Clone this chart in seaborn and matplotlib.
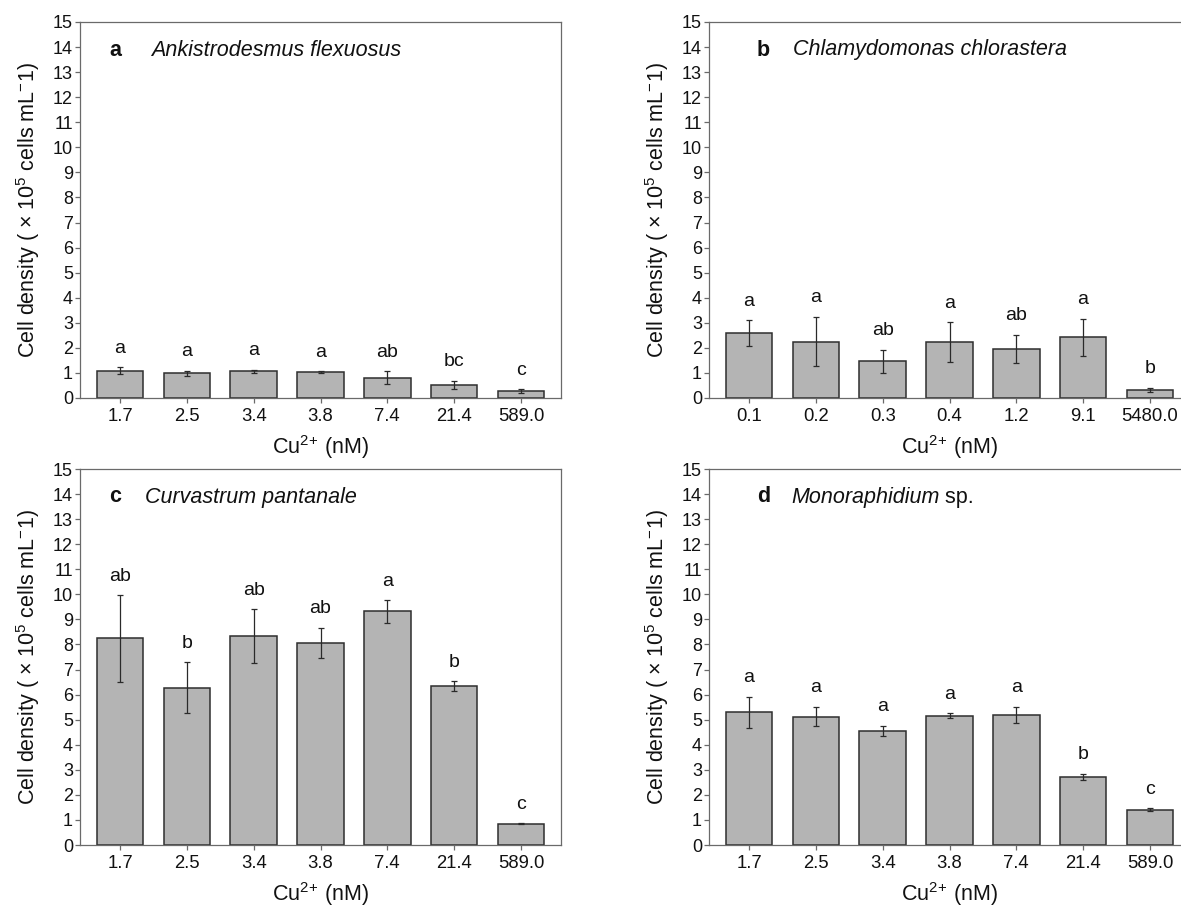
import matplotlib
matplotlib.use("Agg")
import matplotlib.pyplot as plt
import matplotlib.transforms as mtransforms
import numpy as np
import pandas as pd
import seaborn as sns

# Cu2+ concentrations (nM) used as category labels
cu_common = ["1.7", "2.5", "3.4", "3.8", "7.4", "21.4", "589.0"]
cu_chlamy = ["0.1", "0.2", "0.3", "0.4", "1.2", "9.1", "5480.0"]

# Mean cell density (x10^5 cells/mL) and standard deviation
ankis_mean = [1.09, 0.98, 1.07, 1.04, 0.80, 0.51, 0.28]
ankis_sd = [0.14, 0.10, 0.06, 0.03, 0.26, 0.17, 0.07]
ankis_grp = ["a", "a", "a", "a", "ab", "bc", "c"]

chlamy_mean = [2.58, 2.25, 1.46, 2.23, 1.95, 2.42, 0.31]
chlamy_sd = [0.52, 0.99, 0.47, 0.80, 0.57, 0.75, 0.09]
chlamy_grp = ["a", "a", "ab", "a", "ab", "a", "b"]

curva_mean = [8.24, 6.27, 8.33, 8.06, 9.32, 6.35, 0.85]
curva_sd = [1.73, 1.02, 1.08, 0.60, 0.45, 0.19, 0.02]
curva_grp = ["ab", "b", "ab", "ab", "a", "b", "c"]

mono_mean = [5.29, 5.12, 4.56, 5.16, 5.19, 2.72, 1.41]
mono_sd = [0.62, 0.39, 0.20, 0.09, 0.33, 0.13, 0.06]
mono_grp = ["a", "a", "a", "a", "a", "b", "c"]

panels = [
    ("a", "Ankistrodesmus flexuosus", None, cu_common, ankis_mean, ankis_sd, ankis_grp),
    ("b", "Chlamydomonas chlorastera", None, cu_chlamy, chlamy_mean, chlamy_sd, chlamy_grp),
    ("c", "Curvastrum pantanale", None, cu_common, curva_mean, curva_sd, curva_grp),
    ("d", "Monoraphidium", " sp.", cu_common, mono_mean, mono_sd, mono_grp),
]

sns.set_style("white")
plt.rcParams["font.family"] = ["Liberation Sans", "DejaVu Sans"]
plt.rcParams["mathtext.fontset"] = "custom"
plt.rcParams["mathtext.rm"] = "Liberation Sans"
plt.rcParams["mathtext.it"] = "Liberation Sans:italic"
plt.rcParams["mathtext.bf"] = "Liberation Sans:bold"

W, H = 1181, 906
fig = plt.figure(figsize=(W / 100, H / 100), dpi=100)

AX_W, AX_H = 481, 376
# (left px, top px, panel letter x px, species x px)
layout = [
    (80, 22, 29, 71),
    (709, 22, 48, 84),
    (80, 469, 29, 65),
    (709, 469, 48, 82),
]

spine_col = "#6a6a6a"
bar_col = "#b4b4b4"
edge_col = "#2e2e2e"
text_col = "#111111"

for (letter, species, suffix, cats, means, sds, grps), (lx, ty, tx_l, tx_s) in zip(panels, layout):
    ax = fig.add_axes([lx / W, 1 - (ty + AX_H) / H, AX_W / W, AX_H / H])
    df = pd.DataFrame({"cu": cats, "density": means, "sd": sds})
    sns.barplot(data=df, x="cu", y="density", order=cats, color=bar_col,
                saturation=1, width=0.7, edgecolor=edge_col, linewidth=1.1,
                errorbar=None, ax=ax)
    xs = np.arange(len(cats))
    ax.errorbar(xs, df["density"], yerr=df["sd"], fmt="none", ecolor="#2a2a2a",
                elinewidth=0.9, capsize=2.3, capthick=0.9, zorder=5)
    for x, m, s, g in zip(xs, means, sds, grps):
        ax.annotate(g, xy=(x, m + s), xytext=(0, 13.7), textcoords="offset points",
                    ha="center", va="center", fontsize=14, color=text_col)

    ax.set_xlim(-0.6, 6.6)
    ax.set_ylim(0, 15)
    ax.set_yticks(range(0, 16))
    ax.set_xticks(xs)
    ax.set_xticklabels(cats)
    for lab in ax.get_xticklabels():
        dx = 2.5 * (6 - len(lab.get_text())) / 100.0
        lab.set_transform(lab.get_transform() +
                          mtransforms.ScaledTranslation(dx, 0, fig.dpi_scale_trans))

    for sp in ax.spines.values():
        sp.set_visible(True)
        sp.set_color(spine_col)
        sp.set_linewidth(0.9)
    ax.tick_params(axis="y", which="major", direction="out", length=3.6, width=0.9,
                   color=spine_col, pad=1.5, labelsize=13, labelcolor=text_col, left=True)
    ax.tick_params(axis="x", which="major", direction="out", length=3.4, width=0.9,
                   color=spine_col, pad=4, labelsize=13.3, labelcolor=text_col, bottom=True)

    ax.set_ylabel("Cell density ( × 10$^{5}$ cells mL$^{-}$1)", fontsize=15.5, color=text_col)
    ax.yaxis.label.set_va("center")
    ax.yaxis.set_label_coords(-52 / AX_W, 0.5)
    ax.set_xlabel("Cu$^{2}$$^{+}$ (nM)", fontsize=15.5, color=text_col)
    ax.xaxis.label.set_va("center")
    ax.xaxis.set_label_coords(0.5, -49 / AX_H)

    ty_frac = 1 - 28 / AX_H
    ax.text(tx_l / AX_W, ty_frac, letter, transform=ax.transAxes, fontsize=15.5,
            fontweight="bold", ha="left", va="center", color=text_col)
    sp_txt = ax.text(tx_s / AX_W, ty_frac, species, transform=ax.transAxes, fontsize=15.5,
                     fontstyle="italic", ha="left", va="center", color=text_col)
    if suffix:
        ax.annotate(suffix, xy=(1, 0), xycoords=sp_txt, ha="left", va="bottom",
                    fontsize=15.5, color=text_col)

fig.savefig("out.png", dpi=100)
